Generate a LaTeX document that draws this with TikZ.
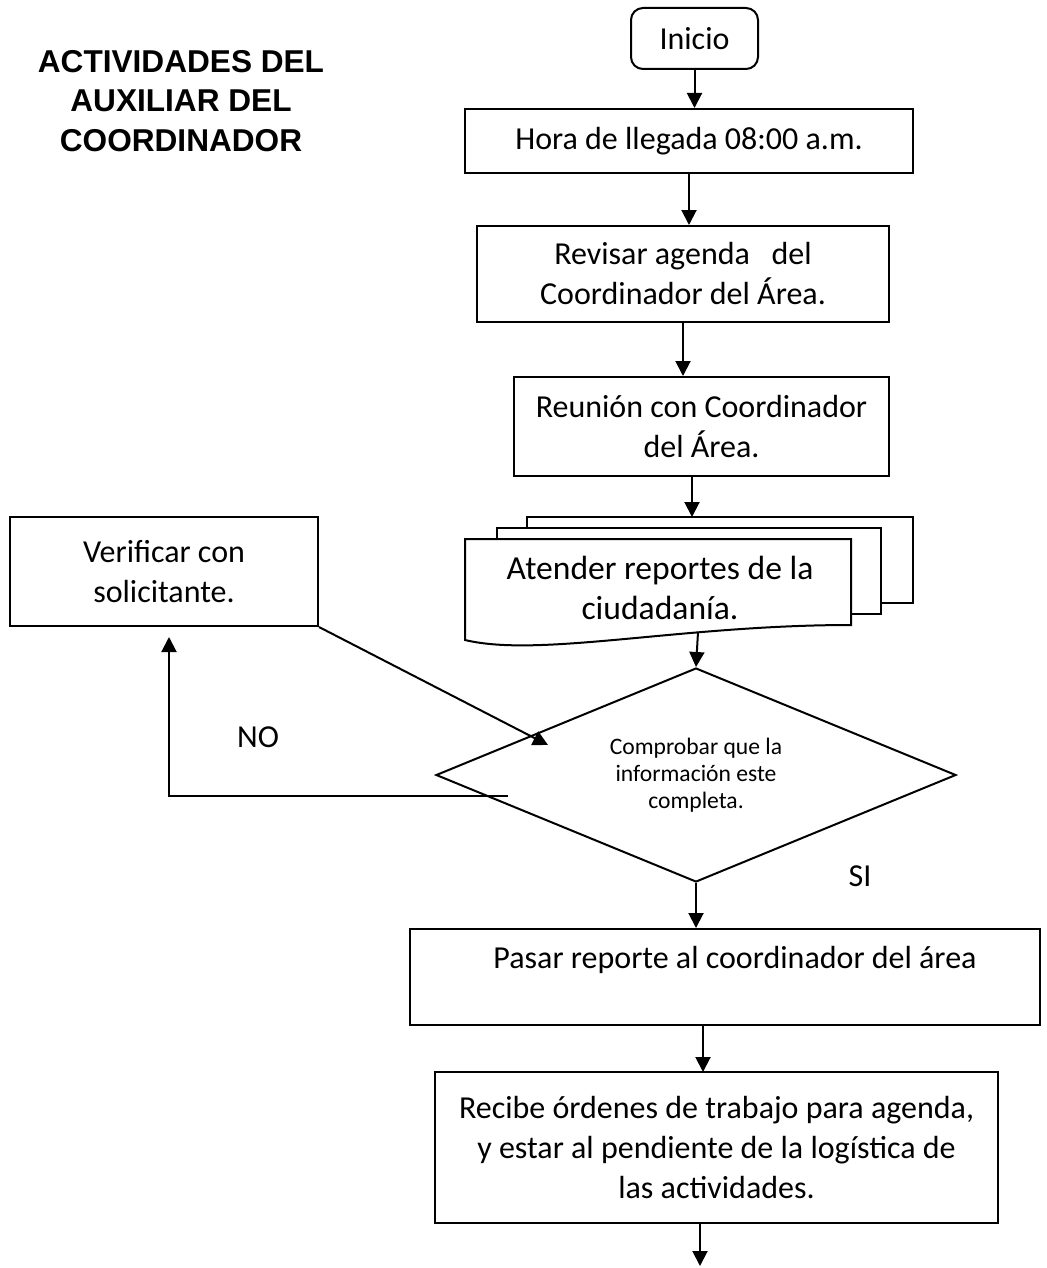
\documentclass[tikz,border=0pt]{standalone}
\usepackage{fontspec}
\setmainfont{Carlito}
\newfontfamily\titlefont{Liberation Sans}
\usetikzlibrary{shapes.geometric, arrows.meta, positioning, calc}

\begin{document}
\begin{tikzpicture}[
    x=0.5pt, y=-0.5pt,
    every node/.style={font=\fontsize{16}{20}\selectfont},
    paso/.style={rectangle, draw, line width=1pt, inner sep=0pt, align=center},
    decision/.style={diamond, draw, line width=1pt, aspect=2.43, inner sep=0pt,
                     align=center, font=\fontsize{11.8}{13.5}\selectfont},
    hoja/.style={draw, line width=1pt, fill=white},
    arrow/.style={-{Triangle[length=7.5pt, width=7.5pt]}, line width=1pt}
]
\useasboundingbox (0,0) rectangle (1047,1268);

\node[font=\titlefont\bfseries\fontsize{15.8}{19.8}\selectfont, align=center] (titulo) at (181,101)
    {ACTIVIDADES DEL\\AUXILIAR DEL\\COORDINADOR};

\node[paso, rounded corners=6pt, minimum width=63.5pt, minimum height=30.5pt] (inicio) at (694.5,38.5) {Inicio};
\node[paso, minimum width=224pt, minimum height=32pt] (hora) at (689,141) {Hora de llegada 08:00 a.m.};
\node[paso, minimum width=206pt, minimum height=48pt] (revisar) at (683,274) {Revisar agenda\ \ \ del\\Coordinador del Área.};
\node[paso, minimum width=187.5pt, minimum height=49.5pt] (reunion) at (701.5,426.5) {Reunión con Coordinador\\del Área.};

% varios documentos
\draw[hoja] (527,517) rectangle (913,603);
\draw[hoja] (497,528) rectangle (881,614);
\draw[hoja] (465,539) -- (851,539) -- (851,625) .. controls (680,625) and (540,658) .. (465,640) -- cycle;
\node[align=center, font=\fontsize{16.8}{20}\selectfont] (atender) at (660,588) {Atender reportes de la\\ciudadanía.};

\node[paso, minimum width=154pt, minimum height=54.5pt] (verificar) at (164,571.5) {Verificar con\\solicitante.};
\node[decision, minimum width=260pt, minimum height=107pt] (cond) at (696,775) {Comprobar que la\\información este\\completa.};
\node[paso, minimum width=315pt, minimum height=48pt] (pasar) at (725,977) {\hspace*{10pt}Pasar reporte al coordinador del área\\\mbox{}};
\node[paso, minimum width=281.5pt, minimum height=75.5pt] (recibe) at (716.5,1147.5) {Recibe órdenes de trabajo para agenda,\\y estar al pendiente de la logística de\\las actividades.};

\node (no) at (258,737) {NO};
\node (si) at (860,876) {SI};

\coordinate (docin) at (692,517);
\coordinate (docout) at (698,632);
\coordinate (condin) at (548,745);
\coordinate (noout) at (508,796);
\coordinate (verifin) at (169,637);
\coordinate (recibein) at (703,1072);
\coordinate (fin) at (700,1266);

\draw[arrow] (inicio.south) -- (inicio.south |- hora.north);
\draw[arrow] (hora.south) -- (hora.south |- revisar.north);
\draw[arrow] (revisar.south) -- (revisar.south |- reunion.north);
\draw[arrow] (reunion.south -| docin) -- (docin);
\draw[arrow] (docout) -- (cond.north);
\draw[arrow] (cond.south) -- (cond.south |- pasar.north);
\draw[arrow] (pasar.south -| recibein) -- (recibein);
\draw[arrow] (recibe.south -| fin) -- (fin);
\draw[arrow] (verificar.south east) -- (condin);
\draw[arrow] (noout) -| (verifin);

\end{tikzpicture}
\end{document}
